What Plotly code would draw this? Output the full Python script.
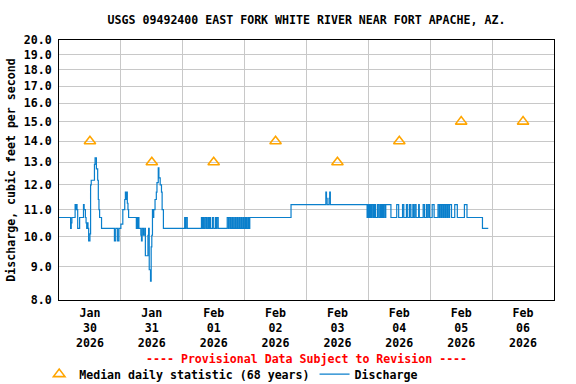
import pandas as pd
import numpy as np
import plotly.graph_objects as go

# ---------------- data ----------------
start = pd.Timestamp("2026-01-30 00:00")

# Discharge change points: hours after 2026-01-30 00:00, and value (ft3/s) from that time on
flow_hours = [
    0.0, 4.5, 4.75, 5.0, 6.25, 6.5, 6.75, 7.0, 7.25, 8.0,
    9.5, 9.75, 10.25, 10.5, 10.75, 11.0, 11.25, 11.5, 12.0, 12.25,
    12.5, 13.75, 14.0, 14.5, 15.0, 15.25, 15.5, 15.75, 16.5,
    21.5, 22.0, 22.75, 23.25, 24.0, 24.75, 25.5, 25.75, 26.0, 26.25,
    26.5, 26.75, 27.0, 27.25,
    30.0, 30.25, 30.5, 30.75, 31.0, 31.75, 32.0, 32.25, 32.75, 33.25,
    33.5, 33.75, 34.5, 34.75, 35.0, 35.5, 35.75, 36.0, 36.25, 36.5,
    36.75, 37.25, 37.75, 38.0, 38.5, 38.75, 39.25, 39.75, 40.0, 40.5,
    48.75, 49.0, 49.25, 49.75,
    55.25, 55.5, 55.75, 56.0, 56.5, 57.0, 57.25, 57.5, 58.0, 58.25,
    58.5, 58.75, 59.5, 60.0, 60.75, 61.0, 61.25, 61.75,
    65.25, 65.75, 66.0, 66.5, 67.0, 67.25, 67.75, 68.0, 68.5, 68.75,
    69.25, 69.5, 70.0, 70.25, 70.75, 71.0, 71.5, 71.75, 72.25, 72.5,
    72.75, 73.0, 73.5, 73.75, 74.0,
    90.0, 103.5, 103.75, 104.0, 104.75, 105.0, 105.25,
    119.5, 119.75, 120.0, 120.25, 120.5, 120.75, 121.0, 121.25, 121.75, 122.0,
    122.25, 122.5, 122.75, 123.5, 124.0, 124.5, 124.75, 125.0, 125.25, 125.5,
    125.75, 126.0, 126.5, 126.75, 128.75, 131.0, 131.75, 133.25, 133.75, 134.75,
    135.25, 136.0, 136.5, 137.25, 137.5, 138.0, 138.5, 139.5, 139.75, 141.25,
    141.75, 142.5, 142.75, 143.25, 143.75, 144.75, 145.5, 147.0, 147.5, 147.75,
    148.25, 148.5, 149.0, 149.25, 149.75, 150.0, 150.5, 150.75, 151.25, 151.5,
    152.25, 153.5, 154.5, 157.25, 158.25, 164.25, 166.5,
]
flow_values = [
    10.7, 10.3, 10.5, 10.7, 11.2, 11.0, 11.2, 11.0, 10.3, 10.7,
    11.2, 11.0, 10.7, 10.5, 10.3, 10.5, 10.3, 9.85, 10.1, 12.0,
    12.2, 12.9, 13.2, 12.7, 12.2, 11.4, 11.0, 10.7, 10.3,
    9.85, 10.3, 9.85, 10.3, 10.45, 11.0, 11.4, 11.7, 11.4, 11.7,
    11.25, 11.0, 10.7, 10.7,
    10.3, 10.7, 10.3, 10.7, 10.3, 10.05, 9.85, 10.3, 10.05, 10.3,
    9.35, 9.35, 10.05, 10.3, 8.9, 8.55, 9.65, 10.05, 11.0, 10.7,
    11.0, 11.4, 11.7, 12.1, 12.75, 12.3, 12.0, 11.7, 11.0, 10.3,
    10.7, 10.3, 10.7, 10.3,
    10.7, 10.3, 10.7, 10.3, 10.7, 10.3, 10.7, 10.3, 10.7, 10.3,
    10.7, 10.3, 10.7, 10.3, 10.7, 10.3, 10.7, 10.3,
    10.7, 10.3, 10.7, 10.3, 10.7, 10.3, 10.7, 10.3, 10.7, 10.3,
    10.7, 10.3, 10.7, 10.3, 10.7, 10.3, 10.7, 10.3, 10.7, 10.3,
    10.7, 10.3, 10.7, 10.3, 10.7,
    11.2, 11.7, 11.45, 11.2, 11.45, 11.7, 11.2,
    10.7, 11.2, 10.7, 11.2, 10.7, 11.2, 10.7, 11.2, 10.7, 11.2,
    10.7, 11.2, 10.7, 11.2, 10.7, 11.2, 10.7, 11.2, 10.7, 11.2,
    10.7, 11.2, 10.7, 11.2, 10.7, 11.2, 10.7, 11.2, 10.7, 11.2,
    10.7, 11.2, 10.7, 11.2, 10.7, 11.2, 10.7, 11.2, 10.7, 11.2,
    10.7, 11.2, 10.7, 11.2, 10.7, 11.2, 10.7, 11.2, 10.7, 11.2,
    10.7, 11.2, 10.7, 11.2, 10.7, 11.2, 10.7, 11.2, 10.7, 11.2,
    10.7, 11.2, 10.7, 11.2, 10.7, 10.3, 10.3,
]

# Median daily statistic (68 years), plotted at noon of each day
median_days = ["2026-01-30", "2026-01-31", "2026-02-01", "2026-02-02",
               "2026-02-03", "2026-02-04", "2026-02-05", "2026-02-06"]
median_values = [14.0, 13.0, 13.0, 14.0, 13.0, 14.0, 15.0, 15.0]

tick_labels = ["Jan<br>30<br>2026", "Jan<br>31<br>2026", "Feb<br>01<br>2026",
               "Feb<br>02<br>2026", "Feb<br>03<br>2026", "Feb<br>04<br>2026",
               "Feb<br>05<br>2026", "Feb<br>06<br>2026"]
y_ticks = [8, 9, 10, 11, 12, 13, 14, 15, 16, 17, 18, 19, 20]

# ---------------- figure ----------------
flow_times = start + pd.to_timedelta(flow_hours, unit="h")
median_times = pd.to_datetime(median_days) + pd.Timedelta(hours=12)

FONT = "DejaVu Sans Mono"
fig = go.Figure()
fig.add_trace(go.Scatter(
    x=median_times, y=median_values, mode="markers",
    name="Median daily statistic (68 years)",
    marker=dict(symbol="triangle-up-open", size=10, color="#FFA500",
                line=dict(width=1.6, color="#FFA500")),
))
fig.add_trace(go.Scatter(
    x=flow_times, y=flow_values, mode="lines", name="Discharge",
    line=dict(color="#0A7FCC", width=1.2, shape="hv"),
))

fig.update_layout(
    width=576, height=384,
    margin=dict(l=59, r=22, t=40, b=84, autoexpand=False),
    paper_bgcolor="white", plot_bgcolor="white",
    font=dict(family=FONT, size=11.6, color="black", weight="bold"),
    title=dict(text="USGS 09492400 EAST FORK WHITE RIVER NEAR FORT APACHE, AZ.",
               x=0.5, xref="paper", xanchor="center",
               y=1 - 20 / 384, yanchor="middle",
               font=dict(family=FONT, size=11.6, weight="bold")),
    showlegend=True,
    legend=dict(orientation="h", x=-0.04, xanchor="left", y=-0.285, yanchor="middle",
                font=dict(family=FONT, size=11.6, weight="bold"),
                bgcolor="rgba(0,0,0,0)", itemwidth=30, traceorder="normal"),
)

fig.update_xaxes(
    range=[start, start + pd.Timedelta(days=8)],
    tickmode="array",
    tickvals=median_times, ticktext=tick_labels,
    ticks="", showgrid=False, automargin=False, ticklabelstandoff=2,
    minor=dict(tick0=start, dtick=86400000, showgrid=True,
               gridcolor="#C8C8C8", gridwidth=1, ticks=""),
    showline=True, mirror=True, linecolor="black", linewidth=1,
    zeroline=False, tickangle=0,
)
fig.update_yaxes(
    type="log", range=[np.log10(8), np.log10(20)],
    tickmode="array", tickvals=y_ticks,
    ticktext=[f"{v:.1f}" for v in y_ticks],
    showgrid=True, gridcolor="#C8C8C8", gridwidth=1, automargin=False,
    ticks="", ticklabelstandoff=4,
    showline=True, mirror=True, linecolor="black", linewidth=1,
    zeroline=False,
    title=dict(text="Discharge, cubic feet per second", standoff=5,
               font=dict(family=FONT, size=11.6, weight="bold")),
)

fig.add_annotation(
    text="---- Provisional Data Subject to Revision ----",
    xref="paper", yref="paper", x=0.5, y=-59 / 260, xanchor="center", yanchor="middle",
    showarrow=False, font=dict(family=FONT, size=11.6, color="#FF0000", weight="bold"),
)

fig.write_html("out.html", config={"displayModeBar": False},
               post_script="document.body.style.margin='0px';")
